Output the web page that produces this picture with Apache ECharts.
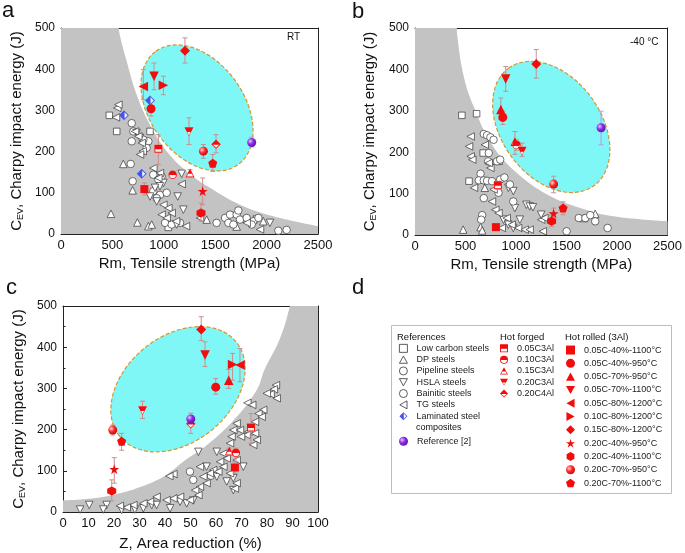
<!DOCTYPE html>
<html>
<head>
<meta charset="utf-8">
<script src="https://cdn.jsdelivr.net/npm/echarts@6/dist/echarts.min.js"></script>
<style>
  html, body { margin: 0; padding: 0; background: #fff; }
  #main { width: 685px; height: 553px; }
</style>
</head>
<body>
<div id="main"></div>
<script>
// ---------- data ----------
// panel a: Rm (MPa) vs CEV (J), room temperature
var aLowCarbon = [[470,288],[542,249],[866,249],[1044,16]];
var aDP = [[606,170],[697,106],[486,49],[743,28],[850,19],[882,23],[1417,35],[1709,18],[1968,31]];
var aPipeline = [[688,269],[704,249],[688,225],[850,225],[801,229],[833,209],[678,170],[697,128],[898,144],[947,132],[979,140],[898,104],[963,95],[1028,100],[931,87],[1012,27],[1077,23],[1158,27],[1514,27]];
var aBainitic = [[1596,39],[1644,47],[1709,47],[1725,57],[1628,27],[1677,23],[1741,35],[1806,39],[1871,31],[1920,39],[2114,8],[2195,10],[1855,23]];
var aHSLA = [[736,245],[769,233],[1174,146],[996,124],[1135,91],[1190,59],[963,116],[915,112],[866,91],[931,79],[2033,27],[1904,35],[1125,23]];
var aTG = [[548,306],[558,314],[535,283],[720,249],[752,237],[785,221],[795,201],[769,193],[898,160],[963,148],[947,136],[1174,121],[996,71],[1044,63],[1077,51],[979,47],[1028,39],[1119,31],[1216,19],[1352,39],[1936,11],[1806,27]];
var aLaminated = [[866,324],[613,288],[785,146]];
// [key, x, y, errLow, errHigh]
var aHot = [
  ['r7',1206,445,415,476],['r5',801,358,326,399],['r4',905,383,350,415],['r6',996,361,338,383],
  ['r2',876,304,286,326],['f4',1245,248,217,282],['r10',1385,201,184,217],['f5',1508,218,197,241],
  ['r11',1476,172,152,193],['f1',947,207,168,241],['f2',1086,144,136,152],['f3',1255,148,140,156],
  ['r1',811,109,95,124],['r8',1378,104,71,136],['r9',1362,51,31,75],['ref2',1855,222,211,235]
];
// gray envelope: edge of the curve, and the fully shaded band at the left
var aBound = [[530,560],[558,500],[639,419],[736,338],[866,265],[1028,201],[1223,152],[1449,112],[1741,71],[2065,43],[2500,19]];
var aBand = [[0,500],[560,500]];

// panel b: Rm (MPa) vs CEV (J), -40 C
var bLowCarbon = [[464,289],[610,293],[675,198],[535,130],[833,178]];
var bDP = [[477,13],[649,19],[665,11],[691,114],[1784,51],[1670,41]];
var bPipeline = [[681,244],[713,241],[746,236],[778,230],[730,198],[723,178],[811,178],[843,182],[649,148],[632,132],[681,132],[713,131],[762,130]];
var bBainitic = [[843,134],[885,139],[940,122],[681,89],[827,102],[973,81],[665,48],[655,37],[1621,41],[1686,41],[1735,48],[1784,33],[1907,17],[1501,9]];
var bHSLA = [[924,114],[973,106],[989,65],[1103,73],[1135,69],[1167,67],[1249,49],[973,17],[1038,37],[876,37],[924,25]];
var bTG = [[551,238],[535,214],[551,190],[567,182],[691,218],[746,162],[730,174],[584,114],[778,110],[762,81],[795,61],[827,53],[908,41],[957,25],[1021,17],[1086,13],[1135,13],[1249,37],[1281,41],[1265,9],[859,17]];
var bHot = [
  ['r7',1200,413,379,448],['r4',898,377,347,407],['r3',850,303,279,331],['r2',869,284,267,299],
  ['f3',989,226,195,250],['f2',1005,218,205,230],['f4',1060,202,190,222],['r10',1372,123,102,142],
  ['ref2',1842,259,218,299],['r9',1352,33,20,48],['r8',1372,52,38,65],['r11',1466,65,49,80],
  ['r1',801,19,14,24],['f1',820,120,110,130]
];
var bBound = [[395,560],[410,500],[486,379],[600,299],[762,218],[989,154],[1313,97],[1637,65],[1962,45],[2500,33]];
var bBand = [[0,500],[412,500]];

// panel c: Z (%) vs CEV (J)
var cTG = [[83.5,308],[82.7,298],[81.4,286],[79.9,288],[83.8,276],[72.3,265],[74.2,260],[78.5,248],[76.6,239],[77.9,231],[75.3,219],[68.1,215],[66.8,199],[69.4,199],[72.7,195],[75.3,191],[76.0,175],[74.6,163],[72.0,187],[69.8,183],[66.1,183],[65.5,167],[62.9,142],[64.2,130],[61.6,122],[58.9,102],[57.6,94],[55.0,86],[56.3,70],[53.7,61],[51.8,53],[53.1,41],[49.8,29],[45.9,37],[43.3,33],[40.6,29],[36.7,37],[34.1,25],[31.5,21],[27.6,17],[25.0,11],[22.3,15],[43.3,92],[41.7,87],[53.7,110],[62.9,110],[68.1,126],[60.9,98],[65.5,94],[67.4,57],[68.1,70]];
var cHSLA = [[53.1,146],[60.3,86],[56.3,110],[64.2,74],[66.8,53],[48.5,21],[42.0,9],[34.8,17],[31.5,9],[17.1,17],[10.3,17],[6.7,6],[15.8,6],[23.0,5],[28.2,6],[36.7,17],[45.9,25],[51.1,28],[66.8,82],[60.3,146],[70.7,110]];
var cPipeline = [[49.8,98],[51.1,78],[58.0,88]];
var cHot = [
  ['r7',54.2,443,416,474],['r4',55.7,381,353,413],['r6',66.5,358,320,385],['r5',69.4,357,316,397],
  ['r3',65.0,320,300,346],['r2',59.9,303,286,324],['f4',31.2,246,227,269],['f5',50.1,214,191,240],
  ['ref2',50.1,226,219,234],['r10',19.5,199,187,211],['r11',23.0,172,150,191],['r8',20.1,104,70,132],
  ['r9',19.1,51,27,78],['f1',73.7,205,167,239],['f3',65.2,148,139,155],['f2',67.8,144,123,155],
  ['r1',67.4,108,94,122]
];
var cBound = [[0,28],[10,32],[20,42],[30,60],[40,88],[48,126],[56,160],[67,223],[76,296],[79,345],[85,420],[89,500],[91,560]];
var cBand = [[89,500],[100,500]];

// ---------- styles ----------
var FF = 'Liberation Sans, Arial, Helvetica, sans-serif';
var RED = '#f20d0d';
var GRAY = '#c3c3c3';
var CYAN = '#80f7f7';

var SYM_DOWN = 'path://M0,0L10,0L5,9Z';
var SYM_UP = 'path://M5,0L10,9L0,9Z';
var SYM_LEFT = 'path://M9,0L9,10L0,5Z';
var SYM_RIGHT = 'path://M0,0L9,5L0,10Z';
var SYM_DIA = 'path://M5,0L10,5L5,10L0,5Z';
var SYM_STAR = 'path://M5,0L6.18,3.62L10,3.62L6.91,5.85L8.09,9.47L5,7.24L1.91,9.47L3.09,5.85L0,3.62L3.82,3.62Z';
var SYM_HEX = 'path://M5,0L9.33,2.5L9.33,7.5L5,10L0.67,7.5L0.67,2.5Z';
var SYM_PENT = 'path://M5,0L10,3.63L8.09,9.51L1.91,9.51L0,3.63Z';
// half-filled symbols (outer shape with a hole in the lower half)
var H_SQ = 'path://M0,0L10,0L10,10L0,10Z M1.2,5.6L1.2,8.8L8.8,8.8L8.8,5.6Z';
var H_CI = 'path://M0,5A5,5,0,1,1,10,5A5,5,0,1,1,0,5Z M1.2,5.5A3.8,3.8,0,0,0,8.8,5.5Z';
var H_UP = 'path://M5,0L10,9L0,9Z M2.9,5.2L1.5,8L8.5,8L7.1,5.2Z';
var H_DN = 'path://M0,0L10,0L5,9Z M3.3,4.8L4.7,7.6L5.3,7.6L6.7,4.8Z';
var H_DI = 'path://M5,0L10,5L5,10L0,5Z M1.8,5.6L5,8.8L8.2,5.6Z';
var H_LAM = 'path://M5,0L10,5L5,10L0,5Z M5.5,1.8L5.5,8.2L8.7,5Z';

function ball(c0, c1, c2) {
  return { type: 'radial', x: 0.35, y: 0.35, r: 0.75,
    colorStops: [{ offset: 0, color: c0 }, { offset: 0.45, color: c1 }, { offset: 1, color: c2 }] };
}

var refStyle = [
  { name: 'Low carbon steels', symbol: 'rect', size: 6.5 },
  { name: 'DP steels', symbol: SYM_UP, size: 7.5 },
  { name: 'Pipeline steels', symbol: 'circle', size: 7.5 },
  { name: 'HSLA steels', symbol: SYM_DOWN, size: 7.5 },
  { name: 'Bainitic steels', symbol: 'circle', size: 7.5 },
  { name: 'TG steels', symbol: SYM_LEFT, size: 7.5 }
];

var hotStyle = {
  f1: { name: '0.05C3Al', symbol: H_SQ, base: 'rect', size: 8 },
  f2: { name: '0.10C3Al', symbol: H_CI, base: 'circle', size: 8.5 },
  f3: { name: '0.15C3Al', symbol: H_UP, base: SYM_UP, size: 9 },
  f4: { name: '0.20C3Al', symbol: H_DN, base: SYM_DOWN, size: 9 },
  f5: { name: '0.20C4Al', symbol: H_DI, base: SYM_DIA, size: 9.5 },
  r1: { name: '0.05C-40%-1100°C', symbol: 'rect', size: 8 },
  r2: { name: '0.05C-40%-950°C', symbol: 'circle', size: 9 },
  r3: { name: '0.05C-70%-950°C', symbol: SYM_UP, size: 9.5 },
  r4: { name: '0.05C-70%-1100°C', symbol: SYM_DOWN, size: 9.5 },
  r5: { name: '0.05C-80%-1200°C', symbol: SYM_LEFT, size: 9.5 },
  r6: { name: '0.10C-80%-1200°C', symbol: SYM_RIGHT, size: 9.5 },
  r7: { name: '0.15C-80%-1200°C', symbol: SYM_DIA, size: 10 },
  r8: { name: '0.20C-40%-950°C', symbol: SYM_STAR, size: 10 },
  r9: { name: '0.20C-40%-1100°C', symbol: SYM_HEX, size: 9 },
  r10: { name: '0.20C-70%-950°C', symbol: 'circle', size: 9, color: ball('#ffd6d6', '#ff2a2a', '#c00000') },
  r11: { name: '0.20C-70%-1100°C', symbol: SYM_PENT, size: 9 },
  ref2: { name: 'Reference [2]', symbol: 'circle', size: 9, color: ball('#e2c8ff', '#8a2be2', '#5010b0') }
};
var forgedKeys = ['f1', 'f2', 'f3', 'f4', 'f5'];
var rolledKeys = ['r1', 'r2', 'r3', 'r4', 'r5', 'r6', 'r7', 'r8', 'r9', 'r10', 'r11'];

// ellipses: centre in data units, radii in px, angle clockwise in degrees
var ellipses = [
  { cx: 1323, cy: 306, rx: 70, ry: 47, angle: 54 },
  { cx: 1349, cy: 261, rx: 72.6, ry: 49.7, angle: 54 },
  { cx: 45.1, cy: 298, rx: 75, ry: 53, angle: -39 }
];

var grids = [
  { left: 61, top: 28, width: 257, height: 206 },
  { left: 415, top: 28, width: 257, height: 207 },
  { left: 63, top: 306, width: 255, height: 206 }
];

var panels = [
  { bound: aBound, band: aBand, refs: [aLowCarbon, aDP, aPipeline, aHSLA, aBainitic, aTG], lam: aLaminated, hot: aHot,
    xmax: 2500, xint: 500, xname: 'Rm, Tensile strength (MPa)', nameGap: 22, yGap: 36 },
  { bound: bBound, band: bBand, refs: [bLowCarbon, bDP, bPipeline, bHSLA, bBainitic, bTG], lam: [], hot: bHot,
    xmax: 2500, xint: 500, xname: 'Rm, Tensile strength (MPa)', nameGap: 22, yGap: 37 },
  { bound: cBound, band: cBand, refs: [[], [], cPipeline, cHSLA, [], cTG], lam: [], hot: cHot,
    xmax: 100, xint: 10, xname: 'Z, Area reduction (%)', nameGap: 24, yGap: 36 }
];

// ---------- build option ----------
var xAxes = [], yAxes = [], series = [];
var axisLineStyle = { color: '#222', width: 1 };
function plain(v) { return String(v); }

panels.forEach(function (p, i) {
  xAxes.push({
    gridIndex: i, type: 'value', min: 0, max: p.xmax, interval: p.xint,
    name: p.xname, nameLocation: 'middle', nameGap: p.nameGap,
    nameTextStyle: { fontSize: 15, color: '#111', fontFamily: FF },
    axisLine: { onZero: false, lineStyle: axisLineStyle },
    axisTick: { inside: true, length: 4, lineStyle: axisLineStyle },
    minorTick: { show: true, splitNumber: 2, length: 2.5, lineStyle: axisLineStyle },
    axisLabel: { fontSize: 13, color: '#111', fontFamily: FF, margin: 5, formatter: plain },
    splitLine: { show: false }
  });
  xAxes.push({
    gridIndex: i, type: 'value', position: 'top', min: 0, max: p.xmax,
    axisLine: { onZero: false, lineStyle: axisLineStyle },
    axisTick: { show: false }, axisLabel: { show: false }, splitLine: { show: false }
  });
  yAxes.push({
    gridIndex: i, type: 'value', min: 0, max: 500, interval: 100,
    name: 'C{s|EV}, Charpy impact energy (J)', nameLocation: 'middle', nameGap: p.yGap,
    nameTextStyle: { fontSize: 15, color: '#111', fontFamily: FF,
      rich: { s: { fontSize: 9, fontFamily: FF, color: '#111', padding: [8, 0, 0, 0] } } },
    axisLine: { onZero: false, lineStyle: axisLineStyle },
    axisTick: { inside: true, length: 4, lineStyle: axisLineStyle },
    minorTick: { show: true, splitNumber: 2, length: 2.5, lineStyle: axisLineStyle },
    axisLabel: { fontSize: 12, color: '#111', fontFamily: FF, margin: 6, formatter: plain },
    splitLine: { show: false }
  });
  yAxes.push({
    gridIndex: i, type: 'value', position: 'right', min: 0, max: 500,
    axisLine: { onZero: false, lineStyle: axisLineStyle },
    axisTick: { show: false }, axisLabel: { show: false }, splitLine: { show: false }
  });

  var xi = 2 * i, yi = 2 * i;

  // gray envelope of the reference steels
  [[p.bound, 0.4], [p.band, 0]].forEach(function (b) {
    series.push({
      name: '_area', type: 'line', xAxisIndex: xi, yAxisIndex: yi, data: b[0],
      symbol: 'none', smooth: b[1], lineStyle: { width: 0 },
      areaStyle: { color: GRAY, opacity: 1 }, z: 1, silent: true
    });
  });

  // cyan ellipse with dashed orange border
  var e = ellipses[i];
  series.push({
    name: '_ellipse', type: 'custom', xAxisIndex: xi, yAxisIndex: yi, data: [[e.cx, e.cy]],
    z: 2, silent: true, clip: true,
    renderItem: function (params, api) {
      var c = api.coord([api.value(0), api.value(1)]);
      return {
        type: 'ellipse', x: c[0], y: c[1], rotation: -e.angle * Math.PI / 180,
        shape: { cx: 0, cy: 0, rx: e.rx, ry: e.ry },
        style: { fill: CYAN, stroke: '#d8952a', lineWidth: 1.2, lineDash: [4, 2] }
      };
    }
  });

  // reference steels (white symbols)
  p.refs.forEach(function (pts, k) {
    var st = refStyle[k];
    series.push({
      name: st.name, type: 'scatter', xAxisIndex: xi, yAxisIndex: yi, data: pts,
      symbol: st.symbol, symbolSize: st.size, z: 3,
      itemStyle: { color: '#fff', borderColor: '#333', borderWidth: 0.7, opacity: 1 }
    });
  });
  // laminated steel composites
  series.push({
    name: 'Laminated steel composites', type: 'scatter', xAxisIndex: xi, yAxisIndex: yi, data: p.lam,
    symbol: SYM_DIA, symbolSize: 10, z: 4, itemStyle: { color: '#fff' }
  });
  series.push({
    name: 'Laminated steel composites', type: 'scatter', xAxisIndex: xi, yAxisIndex: yi, data: p.lam,
    symbol: H_LAM, symbolSize: 10, z: 5, itemStyle: { color: '#1a2be8' }
  });

  // error bars
  function errSeries(keys, color) {
    var d = p.hot.filter(function (h) { return keys.indexOf(h[0]) >= 0; })
      .map(function (h) { return [h[1], h[3], h[4]]; });
    return {
      name: '_err', type: 'custom', xAxisIndex: xi, yAxisIndex: yi, data: d, z: 4, silent: true,
      itemStyle: { color: color },
      renderItem: function (params, api) {
        var lo = api.coord([api.value(0), api.value(1)]);
        var hi = api.coord([api.value(0), api.value(2)]);
        var w = 2.5, st = { stroke: color, lineWidth: 1 };
        return { type: 'group', children: [
          { type: 'line', shape: { x1: lo[0], y1: lo[1], x2: hi[0], y2: hi[1] }, style: st },
          { type: 'line', shape: { x1: lo[0] - w, y1: lo[1], x2: lo[0] + w, y2: lo[1] }, style: st },
          { type: 'line', shape: { x1: hi[0] - w, y1: hi[1], x2: hi[0] + w, y2: hi[1] }, style: st }
        ] };
      }
    };
  }
  series.push(errSeries(forgedKeys.concat(rolledKeys), '#c98f8f'));
  series.push(errSeries(['ref2'], '#b69af0'));

  // this work + reference [2]
  Object.keys(hotStyle).forEach(function (key) {
    var st = hotStyle[key];
    var pts = p.hot.filter(function (h) { return h[0] === key; })
      .map(function (h) { return [h[1], h[2]]; });
    if (st.base) {
      series.push({
        name: '_base', type: 'scatter', xAxisIndex: xi, yAxisIndex: yi, data: pts,
        symbol: st.base, symbolSize: st.size, z: 5, itemStyle: { color: '#fff' }
      });
    }
    series.push({
      name: st.name, type: 'scatter', xAxisIndex: xi, yAxisIndex: yi, data: pts,
      symbol: st.symbol, symbolSize: st.size, z: key === 'ref2' ? 7 : 6,
      itemStyle: { color: st.color || RED, opacity: 1 }
    });
  });
});

// ---------- legend (panel d) ----------
var legText = { fontSize: 9, color: '#222', fontFamily: FF, padding: [0, 0, 0, 4] };
var whiteIcon = { color: '#fff', borderColor: '#333', borderWidth: 0.8 };
var legends = [
  {
    left: 399, top: 342.7, padding: 0, orient: 'vertical', itemWidth: 8, itemHeight: 8, itemGap: 0,
    selectedMode: false, textStyle: Object.assign({ lineHeight: 11.3 }, legText),
    formatter: function (n) { return n === 'Laminated steel composites' ? 'Laminated steel' : n; },
    data: refStyle.map(function (st) {
      return { name: st.name, icon: st.symbol, itemStyle: whiteIcon };
    }).concat([{ name: 'Laminated steel composites', icon: H_LAM, itemStyle: { color: '#1a2be8' } }])
  },
  {
    left: 399, top: 435.6, padding: 0, orient: 'vertical', itemWidth: 9, itemHeight: 9, itemGap: 0,
    selectedMode: false, textStyle: Object.assign({ lineHeight: 11.3 }, legText),
    data: [{ name: 'Reference [2]', icon: 'circle' }]
  },
  {
    left: 500, top: 342.7, padding: 0, orient: 'vertical', itemWidth: 8, itemHeight: 8, itemGap: 0,
    selectedMode: false, textStyle: Object.assign({ lineHeight: 11.3 }, legText),
    data: forgedKeys.map(function (k) { return { name: hotStyle[k].name, icon: hotStyle[k].symbol }; })
  },
  {
    left: 566, top: 343.4, padding: 0, orient: 'vertical', itemWidth: 9, itemHeight: 9, itemGap: 0,
    selectedMode: false, textStyle: Object.assign({ lineHeight: 13.3 }, legText),
    data: rolledKeys.map(function (k) { return { name: hotStyle[k].name, icon: hotStyle[k].symbol }; })
  }
];

function label(text, x, y, size, extra) {
  return Object.assign({ type: 'text', x: x, y: y,
    style: { text: text, fontSize: size, fontFamily: FF, fill: '#111', textVerticalAlign: 'middle' } }, extra || {});
}

var graphics = [
  label('a', 2, 11, 22), label('b', 352, 12, 22), label('c', 6, 288, 22), label('d', 352, 288, 22),
  label('RT', 287, 37, 10), label('-40 °C', 630, 42, 10),
  label('References', 397, 337, 9.5), label('Hot forged', 500, 337, 9.5), label('Hot rolled (3Al)', 565, 337, 9.5),
  label('composites', 416, 427.5, 9),
  { type: 'rect', shape: { x: 391.5, y: 325.5, width: 280, height: 168 },
    style: { fill: 'none', stroke: '#bdbdbd', lineWidth: 1 } }
];

var chart = echarts.init(document.getElementById('main'), null, { renderer: 'canvas' });
chart.setOption({
  animation: false,
  backgroundColor: '#fff',
  textStyle: { fontFamily: FF },
  grid: grids,
  xAxis: xAxes,
  yAxis: yAxes,
  legend: legends,
  graphic: graphics,
  series: series
});
</script>
</body>
</html>
